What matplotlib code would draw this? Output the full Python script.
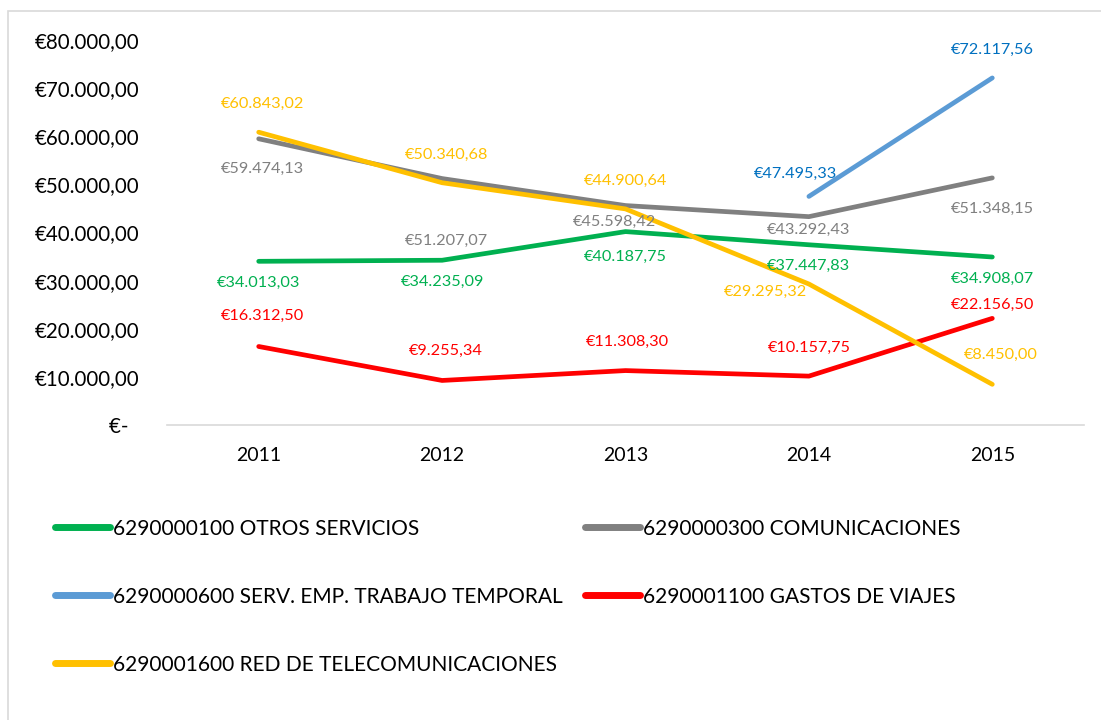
import numpy as np
import matplotlib.pyplot as plt
from matplotlib.patches import Rectangle

plt.rcParams['font.family'] = ['Lato', 'DejaVu Sans']

years = ['2011', '2012', '2013', '2014', '2015']
otros = [34013.03, 34235.09, 40187.75, 37447.83, 34908.07]
comunic = [59474.13, 51207.07, 45598.42, 43292.43, 51348.15]
serv_emp = [np.nan, np.nan, np.nan, 47495.33, 72117.56]
viajes = [16312.50, 9255.34, 11308.30, 10157.75, 22156.50]
red_tel = [60843.02, 50340.68, 44900.64, 29295.32, 8450.00]

names = ['6290000100 OTROS SERVICIOS', '6290000300 COMUNICACIONES',
         '6290000600 SERV. EMP. TRABAJO TEMPORAL', '6290001100 GASTOS DE VIAJES',
         '6290001600 RED DE TELECOMUNICACIONES']


def euro(v):
    s = f"{v:,.2f}".replace(',', 'X').replace('.', ',').replace('X', '.')
    return '€' + s


# (series, line colour, label colour, label offsets in pixels per point)
series = [
    (otros, '#00B050', '#00B050', [(0, -22), (0, -22), (0, -25), (0, -21), (0, -22)]),
    (comunic, '#808080', '#808080', [(4, -30), (4, -62), (-11, -16), (0, -13), (0, -31)]),
    (serv_emp, '#5B9BD5', '#0070C0', [None, None, None, (-13, 23), (0, 28)]),
    (viajes, '#FF0000', '#FF0000', [(4, 31), (4, 30), (2, 29), (0, 28), (0, 13)]),
    (red_tel, '#FFC000', '#FFC000', [(4, 28), (4, 28), (0, 28), (-43, -8), (8, 29)]),
]

fig = plt.figure(figsize=(11.01, 7.2), dpi=100)
ax = fig.add_axes([167 / 1101, 1 - 425 / 720, (1084 - 167) / 1101, (425 - 40) / 720])

x = np.arange(len(years))
lines = []
for vals, col, lcol, offs in series:
    ln, = ax.plot(x, vals, color=col, lw=3.4, solid_capstyle='round', solid_joinstyle='round')
    lines.append(ln)
    for i, v in enumerate(vals):
        if np.isnan(v):
            continue
        ax.annotate(euro(v), (x[i], v), xytext=offs[i], textcoords='offset pixels',
                    ha='center', va='center', color=lcol, fontsize=11.7)

ax.set_xlim(-0.5, 4.5)
ax.set_ylim(0, 80000)
ax.set_xticks(x)
ax.set_xticklabels(years)
yt = np.arange(0, 80001, 10000)
ax.set_yticks(yt)
ax.set_yticklabels(['€-  '] + [euro(v) for v in yt[1:]])
ax.tick_params(length=0, colors='black')
ax.tick_params(axis='x', pad=16, labelsize=14)
ax.tick_params(axis='y', pad=20, labelsize=14.8)
for sp in ['top', 'right', 'left']:
    ax.spines[sp].set_visible(False)
ax.spines['bottom'].set_color('#D9D9D9')
ax.spines['bottom'].set_linewidth(1.2)

# legend, filled column by column so rows read like the original
order = [0, 2, 4, 1, 3]
leg = fig.legend([lines[i] for i in order], [names[i] for i in order], ncol=2,
                 loc='upper left', bbox_to_anchor=(36 / 1101, 1 - 500 / 720),
                 frameon=False, fontsize=15, handlelength=2.65, handletextpad=0.15,
                 labelspacing=2.3, columnspacing=1.05)
for h in leg.legend_handles:
    h.set_linewidth(5)

fig.patches.append(Rectangle((8 / 1101, -0.01), 1.1, 1 - 11 / 720 + 0.01,
                             transform=fig.transFigure, fill=False,
                             edgecolor='#D9D9D9', lw=1.2))

fig.savefig('out.png', dpi=100)
